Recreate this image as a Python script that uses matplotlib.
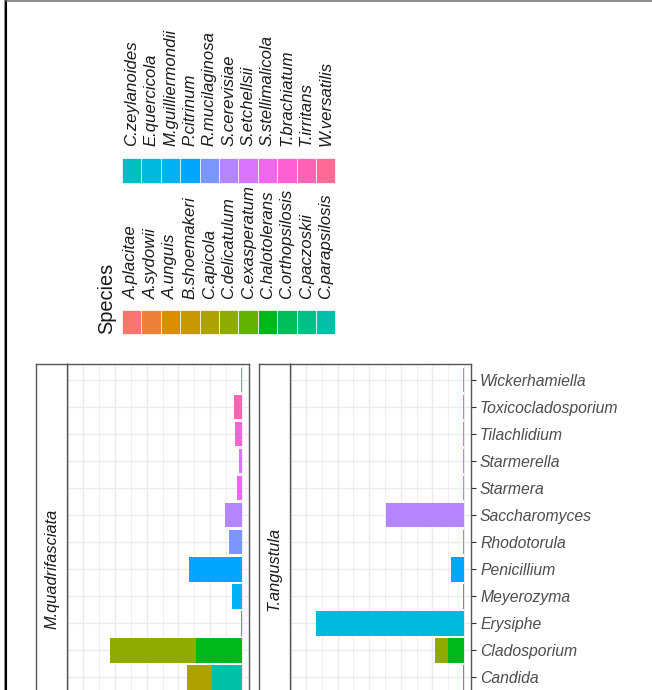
import numpy as np
import matplotlib
matplotlib.use("Agg")
import matplotlib.pyplot as plt
from matplotlib.patches import Rectangle
from matplotlib.lines import Line2D

plt.rcParams["font.family"] = ["Liberation Sans", "DejaVu Sans"]

W, H = 652, 690  # canvas in pixels

# ── Data ─────────────────────────────────────────────────────────────────────
species = ["A.placitae", "A.sydowii", "A.unguis", "B.shoemakeri", "C.apicola",
           "C.delicatulum", "C.exasperatum", "C.halotolerans", "C.orthopsilosis",
           "C.paczoskii", "C.parapsilosis", "C.zeylanoides", "E.quercicola",
           "M.guilliermondii", "P.citrinum", "R.mucilaginosa", "S.cerevisiae",
           "S.etchellsii", "S.stellimalicola", "T.brachiatum", "T.irritans",
           "W.versatilis"]

genera = ["Wickerhamiella", "Toxicocladosporium", "Tilachlidium", "Starmerella",
          "Starmera", "Saccharomyces", "Rhodotorula", "Penicillium", "Meyerozyma",
          "Erysiphe", "Cladosporium", "Candida"]

hosts = ["M.quadrifasciata", "T.angustula"]

mq_genus = ["Wickerhamiella", "Toxicocladosporium", "Tilachlidium", "Starmerella",
            "Starmera", "Saccharomyces", "Rhodotorula", "Penicillium", "Meyerozyma",
            "Erysiphe", "Cladosporium", "Cladosporium", "Candida", "Candida"]
mq_species = ["W.versatilis", "T.irritans", "T.brachiatum", "S.etchellsii",
              "S.stellimalicola", "S.cerevisiae", "R.mucilaginosa", "P.citrinum",
              "M.guilliermondii", "E.quercicola", "C.delicatulum", "C.halotolerans",
              "C.apicola", "C.parapsilosis"]
mq_value = [0.45, 2.4, 2.2, 0.85, 1.5, 5.3, 4.0, 16.6, 3.15, 0.45, 27.0, 14.6, 7.9, 9.4]

ta_genus = ["Wickerhamiella", "Toxicocladosporium", "Tilachlidium", "Starmerella",
            "Starmera", "Saccharomyces", "Rhodotorula", "Penicillium", "Meyerozyma",
            "Erysiphe", "Cladosporium", "Cladosporium", "Candida"]
ta_species = ["W.versatilis", "T.irritans", "T.brachiatum", "S.etchellsii",
              "S.stellimalicola", "S.cerevisiae", "R.mucilaginosa", "P.citrinum",
              "M.guilliermondii", "E.quercicola", "C.delicatulum", "C.halotolerans",
              "C.parapsilosis"]
ta_value = [0.45, 0.45, 0.45, 0.45, 0.45, 24.7, 0.45, 4.2, 0.45, 46.9, 3.9, 5.2, 0.45]

N_ROWS = 15          # genus slots on the axis (the lower ones run off the canvas)
XLIM = (55.1, -2.2)  # value axis grows to the left


# ── ggplot-style hue palette (HCL, c=100, l=65) ──────────────────────────────
def hcl_hex(h, c=100.0, l=65.0):
    hr = np.deg2rad(h)
    U, V = c * np.cos(hr), c * np.sin(hr)
    Xn, Yn, Zn = 0.95047, 1.0, 1.08883
    den = Xn + 15 * Yn + 3 * Zn
    un, vn = 4 * Xn / den, 9 * Yn / den
    Y = Yn * ((l + 16) / 116) ** 3
    u = U / (13 * l) + un
    v = V / (13 * l) + vn
    X = 9 * Y * u / (4 * v)
    Z = -X / 3 - 5 * Y + 3 * Y / v
    rgb = np.array([3.240479 * X - 1.537150 * Y - 0.498535 * Z,
                    -0.969256 * X + 1.875992 * Y + 0.041556 * Z,
                    0.055648 * X - 0.204043 * Y + 1.057311 * Z])
    rgb = np.where(rgb <= 0.0031308, 12.92 * rgb, 1.055 * np.abs(rgb) ** (1 / 2.4) - 0.055)
    rgb = np.clip(rgb, 0, 1)
    return "#%02X%02X%02X" % tuple(int(round(x * 255)) for x in rgb)


hues = np.linspace(15, 375, len(species) + 1)[:-1]
colors = {s: hcl_hex(h) for s, h in zip(species, hues)}


def fx(px):
    return px / W


def fy(py):
    return 1 - py / H


fig = plt.figure(figsize=(W / 100, H / 100), dpi=100)

# page frame
fig.add_artist(Line2D([fx(4.2)] * 2, [0, 1], color="#9A9A9A", lw=0.8))
fig.add_artist(Line2D([fx(5.7)] * 2, [0, 1], color="black", lw=1.5))
fig.add_artist(Line2D([fx(6), 1], [fy(0.6)] * 2, color="#6E6E6E", lw=1.1))

# ── Panels ───────────────────────────────────────────────────────────────────
PANEL_TOP, PANEL_BOT = 364, 774.7
panels = [(36, 67, 249), (290 - 31, 290, 471)]
data = [(mq_genus, mq_species, mq_value), (ta_genus, ta_species, ta_value)]
border = "#555555"

for k, ((sx, px0, px1), (g_list, s_list, v_list)) in enumerate(zip(panels, data)):
    ax = fig.add_axes([fx(px0), fy(PANEL_BOT), fx(px1 - px0), (PANEL_BOT - PANEL_TOP) / H])
    ax.set_xlim(*XLIM)
    ax.set_ylim(N_ROWS - 0.4, -0.6)
    ax.set_axisbelow(True)

    ax.set_xticks(np.arange(0, 51, 10))
    ax.set_xticks(np.arange(5, 56, 10), minor=True)
    ax.set_yticks(range(len(genera)))
    ax.grid(which="major", axis="both", color="#EBEBEB", lw=1.0)
    ax.grid(which="minor", axis="x", color="#EFEFEF", lw=0.8)
    ax.tick_params(axis="x", which="both", length=0, labelbottom=False)

    # stack segments: first species level sits farthest from zero
    left = dict.fromkeys(genera, 0.0)
    order = sorted(range(len(s_list)), key=lambda i: -species.index(s_list[i]))
    for i in order:
        g = g_list[i]
        ax.barh(genera.index(g), v_list[i], left=left[g], height=0.9,
                color=colors[s_list[i]], linewidth=0)
        left[g] += v_list[i]

    for sp in ax.spines.values():
        sp.set_color(border)
        sp.set_linewidth(1.0)

    if k == 1:
        ax.yaxis.set_ticks_position("right")
        ax.set_yticklabels(genera, fontstyle="italic", fontsize=11.3, color="#4D4D4D")
        ax.tick_params(axis="y", length=3.6, width=0.8, color="#333333", pad=2.9)
    else:
        ax.tick_params(axis="y", left=False, labelleft=False)

    # facet strip
    sax = fig.add_axes([fx(sx), fy(PANEL_BOT), fx(px0 - sx), (PANEL_BOT - PANEL_TOP) / H])
    sax.set_xticks([])
    sax.set_yticks([])
    sax.set_facecolor("white")
    for sp in sax.spines.values():
        sp.set_color(border)
        sp.set_linewidth(1.0)
    sax.text(0.5, 0.5, hosts[k], rotation=90, ha="center", va="center",
             fontstyle="italic", fontsize=11.8, color="#1A1A1A", transform=sax.transAxes)

# ── Legend ───────────────────────────────────────────────────────────────────
KEY_X0, KEY_W = 122, 19.4
cols = [(310, 334, 299), (158, 182.5, 146.5)]  # key top, key bottom, label start
per_col = 11
for c, (ktop, kbot, lab_y) in enumerate(cols):
    for j, s in enumerate(species[c * per_col:(c + 1) * per_col]):
        x0 = KEY_X0 + j * KEY_W
        fig.add_artist(Rectangle((fx(x0), fy(kbot)), fx(KEY_W), (kbot - ktop) / H,
                                 facecolor=colors[s], edgecolor="white", lw=0.5,
                                 transform=fig.transFigure))
        fig.text(fx(x0 + KEY_W / 2), fy(lab_y), s, rotation=90, rotation_mode="anchor",
                 ha="left", va="center", fontstyle="italic", fontsize=12.1, color="#1A1A1A")

fig.text(fx(112.5), fy(334), "Species", rotation=90, rotation_mode="anchor",
         ha="left", va="baseline", fontsize=14.4, color="#1A1A1A")

fig.savefig("out.png", dpi=100)
